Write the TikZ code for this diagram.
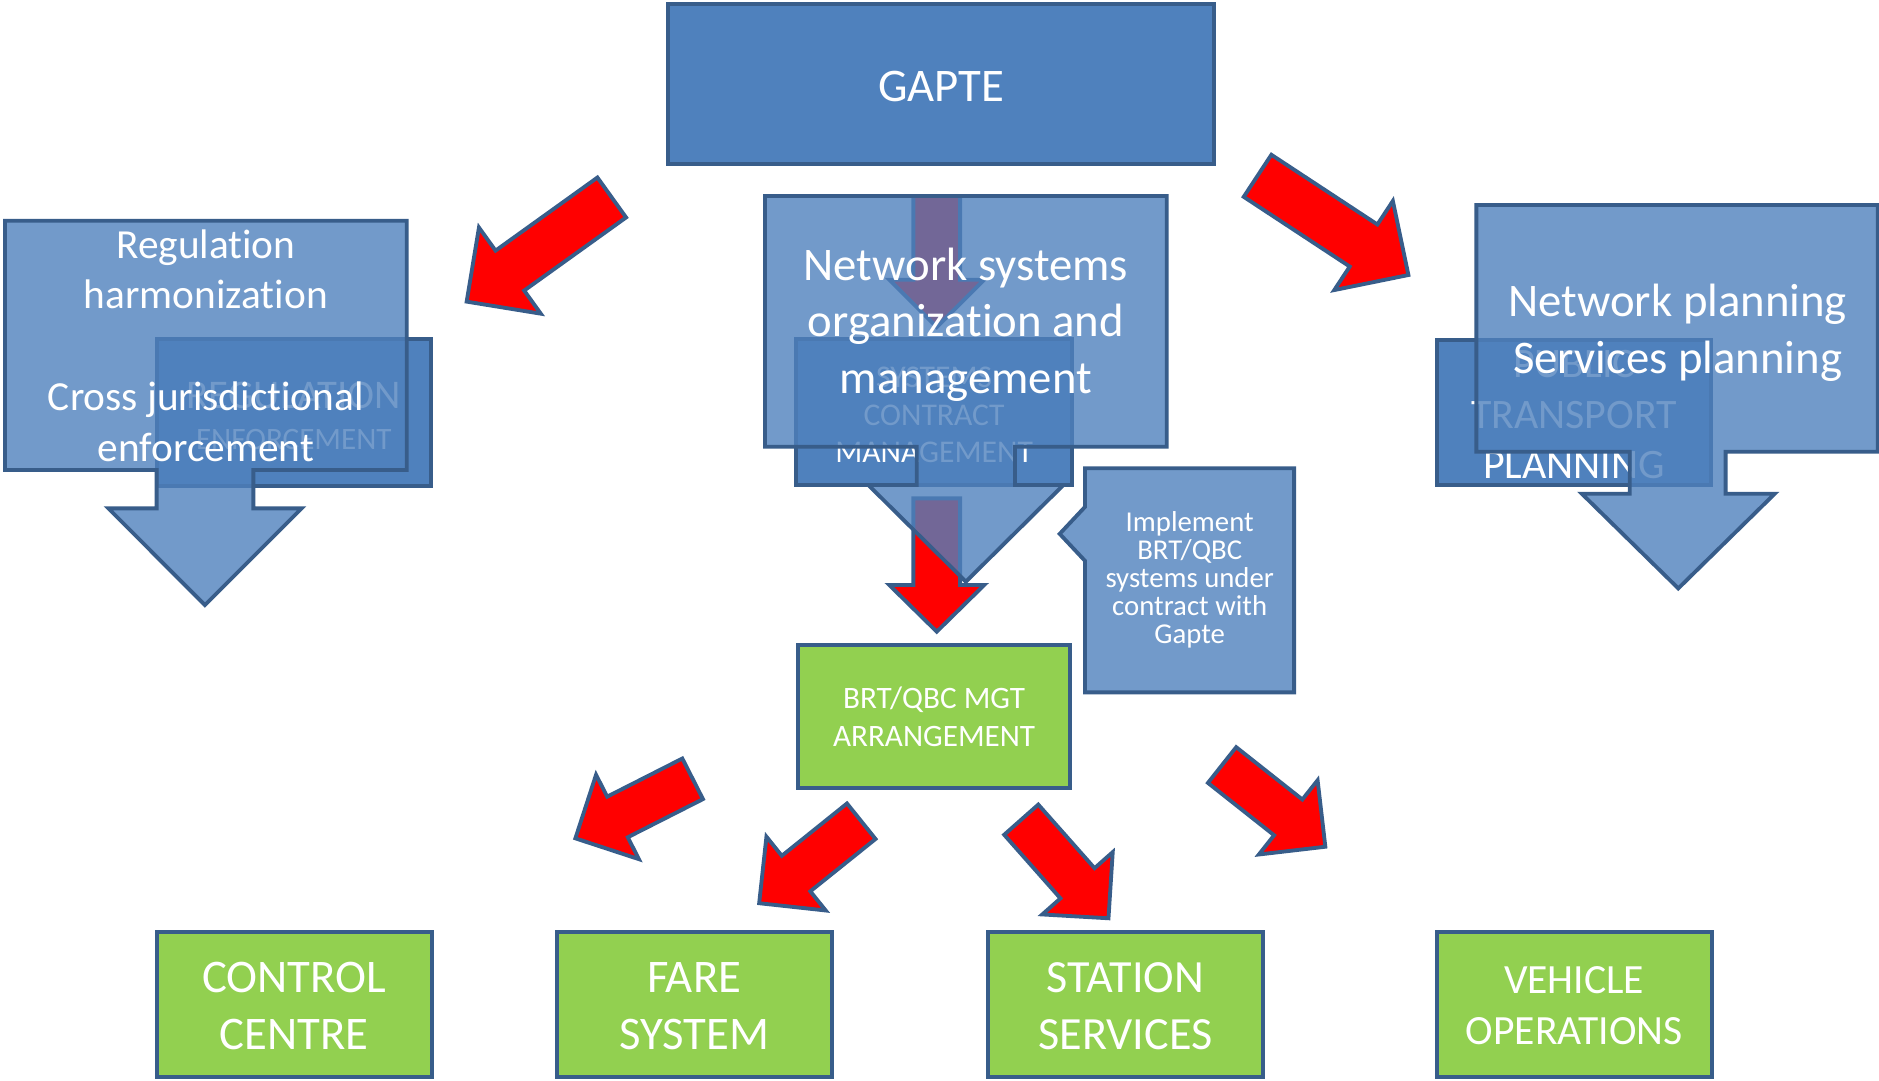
\documentclass[tikz,border=0pt]{standalone}
\usepackage{fontspec}
\setmainfont{Carlito}[Ligatures={NoCommon}]
\definecolor{bfill}{RGB}{79,129,189}
\definecolor{bline}{RGB}{56,93,138}
\definecolor{gfill}{RGB}{146,208,80}
\definecolor{rfill}{RGB}{255,0,0}
\tikzset{
  box/.style={draw=bline, line width=3.2pt, inner sep=0pt, outer sep=0pt},
  darkbox/.style={box, fill=bfill},
  greenbox/.style={box, fill=gfill},
  lightshape/.style={draw=bline, line width=3.2pt, fill=bfill, fill opacity=0.8, line join=miter},
  redarr/.style={draw=bline, line width=3.2pt, fill=rfill, line join=miter},
  txt/.style={text=white, inner sep=0pt, anchor=base},
}
\newcommand\nolig{\kern0pt{}}
\newcommand\TxtLine[4]{\node[txt, font=\fontsize{#3}{#3}\selectfont] (#1) at #2 {#4};}
\newcommand\RectNode[6]{%
  \pgfmathsetmacro\rnW{#5-#3}\pgfmathsetmacro\rnH{#6-#4}%
  \node[#1, minimum width=\rnW pt, minimum height=\rnH pt] (#2) at ({(#3+#5)/2},{(#4+#6)/2}) {};}
\newcommand\RedBlockArrow[7]{%
  \pgfmathsetmacro\rbaLen{veclen(#3-#1,#4-#2)}%
  \pgfmathsetmacro\rbaAng{atan2(#2-#4,#3-#1)}%
  \pgfmathsetmacro\rbaNeck{\rbaLen-#7}%
  \draw[redarr, shift={(#1,#2)}, rotate=\rbaAng] (0,-#5/2) -- (\rbaNeck,-#5/2) -- (\rbaNeck,-#6/2) -- (\rbaLen,0) -- (\rbaNeck,#6/2) -- (\rbaNeck,#5/2) -- (0,#5/2) -- cycle;}
\begin{document}
\begin{tikzpicture}[x=1pt,y=-1pt]
\useasboundingbox (0,0) rectangle (1568,902);
\fill[white] (0,0) rectangle (1568,902);

% GAPTE
\RectNode{darkbox}{gapte}{557.5}{3.2}{1013.2}{137}
\TxtLine{gapteT}{(785.3,84.9)}{39}{GAPTE}

% boxes lying under the translucent callouts
\RectNode{darkbox}{regEnf}{130.7}{283.2}{359.7}{405.6}
\TxtLine{regEnfA}{(245.2,340.8)}{34}{REGULATION}
\TxtLine{regEnfB}{(245.2,375.5)}{26}{ENFORCEMENT}
\RectNode{darkbox}{sysCon}{664.3}{283.2}{894.3}{404.7}
\TxtLine{sysConA}{(779.5,323.3)}{26.4}{SYSTEMS}
\TxtLine{sysConB}{(779.5,354.7)}{26.4}{CONTRACT}
\TxtLine{sysConC}{(779.5,386.1)}{26.4}{MANAGEMENT}
\RectNode{darkbox}{ptp}{1199}{284}{1428}{405}
\TxtLine{ptpA}{(1313.5,315)}{35}{PUBLIC}
\TxtLine{ptpB}{(1313.5,357.3)}{35}{TRANSPORT}
\TxtLine{ptpC}{(1313.5,399.2)}{35}{PLANNING}

% red arrows under the centre callout
\RedBlockArrow{781.7}{163.6}{781.7}{273}{39}{79}{39.5}
\RedBlockArrow{781.7}{415.9}{781.7}{527.1}{39}{79.4}{39}

% translucent callouts
\draw[lightshape] (4.2,184.2) -- (339.4,184.2) -- (339.4,392.2) -- (211.4,392.2) -- (211.4,424.2) -- (251.7,424.2) -- (171.05,504.9) -- (90.4,424.2) -- (130.7,424.2) -- (130.7,392.2) -- (4.2,392.2) -- cycle;
\TxtLine{regA}{(171.8,215.6)}{34.5}{Regulat\nolig ion}
\TxtLine{regB}{(171.8,257.3)}{34.5}{harmonizat\nolig ion}
\TxtLine{regC}{(171.8,342.2)}{34.5}{Cross jurisdict\nolig ional}
\TxtLine{regD}{(171.8,385.3)}{34.5}{enforcement}

\draw[lightshape] (638.4,163.6) -- (973.6,163.6) -- (973.6,372.8) -- (847,372.8) -- (847,404.7) -- (887.4,404.7) -- (806,485.4) -- (724.6,404.7) -- (765,404.7) -- (765,372.8) -- (638.4,372.8) -- cycle;
\TxtLine{netA}{(806,233.7)}{39}{Network systems}
\TxtLine{netB}{(806,281)}{39}{organizat\nolig ion and}
\TxtLine{netC}{(806,328.2)}{39}{management}

\draw[lightshape] (1232,171) -- (1567,171) -- (1567,377) -- (1440,377) -- (1440,412) -- (1481,412) -- (1400.5,491) -- (1320,412) -- (1360,412) -- (1360,377) -- (1232,377) -- cycle;
\TxtLine{planA}{(1400,264.5)}{39}{Network planning}
\TxtLine{planB}{(1400,311.3)}{39}{Services planning}

\draw[lightshape] (905.4,390.8) -- (1079.9,390.8) -- (1079.9,577.8) -- (905.4,577.8) -- (905.4,468) -- (884.3,445.5) -- (905.4,423) -- cycle;
\TxtLine{impA}{(992.8,443.7)}{24}{Implement}
\TxtLine{impB}{(992.8,467)}{24}{BRT/QBC}
\TxtLine{impC}{(992.8,490.3)}{24}{systems under}
\TxtLine{impD}{(992.8,513.6)}{24}{contract with}
\TxtLine{impE}{(992.8,536.9)}{24}{Gapte}

% management arrangement
\RectNode{greenbox}{brt}{666.2}{538.3}{892.9}{657.9}
\TxtLine{brtA}{(779.5,591.1)}{26}{BRT/QBC MGT}
\TxtLine{brtB}{(779.5,622.6)}{26}{ARRANGEMENT}

% free red arrows
\RedBlockArrow{510.5}{164.8}{389.4}{251.7}{41}{88.5}{44.4}
\RedBlockArrow{1049.4}{146.7}{1175.3}{229.5}{42}{89}{44.8}
\RedBlockArrow{578}{649.9}{480.1}{699.6}{38}{79}{39.4}
\RedBlockArrow{718.7}{685.3}{633.4}{753.8}{38}{79}{39.5}
\RedBlockArrow{852.2}{684}{925.1}{766.4}{38}{78.5}{39}
\RedBlockArrow{1019.8}{638.4}{1106}{706.6}{38}{79}{39.5}

% bottom boxes
\RectNode{greenbox}{cc}{130.7}{777.5}{360.2}{899}
\TxtLine{ccA}{(245.5,828.3)}{39}{CONTROL}
\TxtLine{ccB}{(245.5,876)}{39}{CENTRE}
\RectNode{greenbox}{fs}{464.5}{777.5}{694}{899}
\TxtLine{fsA}{(579.3,828.3)}{39}{FARE}
\TxtLine{fsB}{(579.3,876)}{39}{SYSTEM}
\RectNode{greenbox}{ss}{824.8}{777.5}{1053.7}{899}
\TxtLine{ssA}{(939.2,828.3)}{38.5}{STATION}
\TxtLine{ssB}{(939.2,876)}{38.5}{SERVICES}
\RectNode{greenbox}{vo}{1198.9}{777.5}{1428.4}{899}
\TxtLine{voA}{(1313.6,829.2)}{34.7}{VEHICLE}
\TxtLine{voB}{(1313.6,871.4)}{34.7}{OPERATIONS}
\end{tikzpicture}
\end{document}
